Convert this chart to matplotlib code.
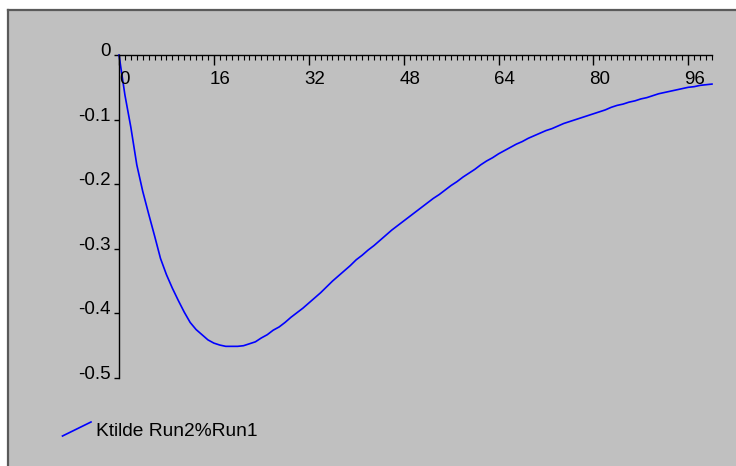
import matplotlib
matplotlib.use("Agg")
import matplotlib.pyplot as plt
from matplotlib.lines import Line2D
from matplotlib.patches import Rectangle
import matplotlib.transforms as mtransforms

plt.rcParams['font.family'] = ['Liberation Sans', 'DejaVu Sans']

series_name = "Ktilde Run2%Run1"
x_values = list(range(0, 101))
y_values = [
    0.000, -0.062, -0.112, -0.170, -0.211, -0.246, -0.280, -0.315, -0.340, -0.361,
    -0.380, -0.398, -0.414, -0.425, -0.433, -0.441, -0.446, -0.449, -0.451, -0.451,
    -0.451, -0.450, -0.447, -0.444, -0.438, -0.433, -0.426, -0.421, -0.414, -0.406,
    -0.399, -0.392, -0.384, -0.376, -0.368, -0.359, -0.350, -0.342, -0.334, -0.326,
    -0.317, -0.310, -0.302, -0.295, -0.287, -0.279, -0.271, -0.264, -0.257, -0.250,
    -0.243, -0.236, -0.229, -0.222, -0.216, -0.209, -0.202, -0.196, -0.189, -0.183,
    -0.177, -0.170, -0.164, -0.159, -0.153, -0.148, -0.143, -0.138, -0.134, -0.129,
    -0.125, -0.121, -0.117, -0.114, -0.110, -0.106, -0.103, -0.100, -0.097, -0.094,
    -0.091, -0.088, -0.085, -0.081, -0.078, -0.076, -0.073, -0.071, -0.068, -0.066,
    -0.063, -0.060, -0.058, -0.056, -0.054, -0.052, -0.050, -0.049, -0.047, -0.046,
    -0.045,
]
x_major_ticks = [0, 16, 32, 48, 64, 80, 96]
y_ticks = [0, -0.1, -0.2, -0.3, -0.4, -0.5]
y_tick_labels = ["0", "-0.1", "-0.2", "-0.3", "-0.4", "-0.5"]

W, H = 736, 466
fig = plt.figure(figsize=(W / 100, H / 100), dpi=100)
fig.patch.set_facecolor('white')

# grey panel with dark border on left/top
fig.add_artist(Rectangle((7.5 / W, 0), 1 - 7.5 / W, 1 - 9.5 / H, transform=fig.transFigure,
                         facecolor='#c0c0c0', edgecolor='none', zorder=0))
fig.add_artist(Line2D([7.5 / W, 7.5 / W], [0, 1 - 9.5 / H], transform=fig.transFigure,
                      color='#5a5a5a', lw=1.6, zorder=1))
fig.add_artist(Line2D([7.5 / W, 1], [1 - 9.5 / H, 1 - 9.5 / H], transform=fig.transFigure,
                      color='#5a5a5a', lw=1.6, zorder=1))

left, right = 119 / W, 712 / W
bottom, top = 1 - 378 / H, 1 - 55 / H
ax = fig.add_axes([left, bottom, right - left, top - bottom])
ax.set_facecolor('none')
ax.plot(x_values, y_values, color='#0000ff', lw=1.2, clip_on=False)
ax.set_xlim(0, 100)
ax.set_ylim(-0.5, 0)

for s in ['right', 'bottom']:
    ax.spines[s].set_visible(False)
ax.spines['left'].set_linewidth(1.0)
ax.spines['top'].set_linewidth(1.0)

ax.xaxis.set_ticks_position('top')
ax.set_xticks(x_major_ticks)
ax.set_xticks(range(0, 101), minor=True)
ax.tick_params(axis='x', which='major', direction='in', length=7, width=1.0, labeltop=False, labelbottom=False)
ax.tick_params(axis='x', which='minor', direction='in', length=3.5, width=0.8)

off = mtransforms.offset_copy(ax.transData, fig=fig, x=6, y=-16, units='dots')
for v in x_major_ticks:
    ax.text(v, 0, str(v), transform=off, ha='center', va='top', fontsize=13.5, color='black')

ax.set_yticks(y_ticks)
ax.set_yticklabels([])
ax.tick_params(axis='y', direction='out', length=3.5, width=1.0)
offy = mtransforms.offset_copy(ax.transData, fig=fig, x=-8, y=-1, units='dots')
for v, lab in zip(y_ticks, y_tick_labels):
    ax.text(0, v, lab, transform=offy, ha='right', va='baseline', fontsize=13.5, color='black')

# legend
fig.add_artist(Line2D([62.5 / W, 91 / W], [1 - 436 / H, 1 - 422 / H], transform=fig.transFigure,
                      color='#0000ff', lw=1.2))
fig.text(96 / W, 1 - 435.5 / H, series_name, ha='left', va='baseline', fontsize=13.8, color='black')

fig.savefig('out.png', dpi=100, facecolor=fig.get_facecolor())
